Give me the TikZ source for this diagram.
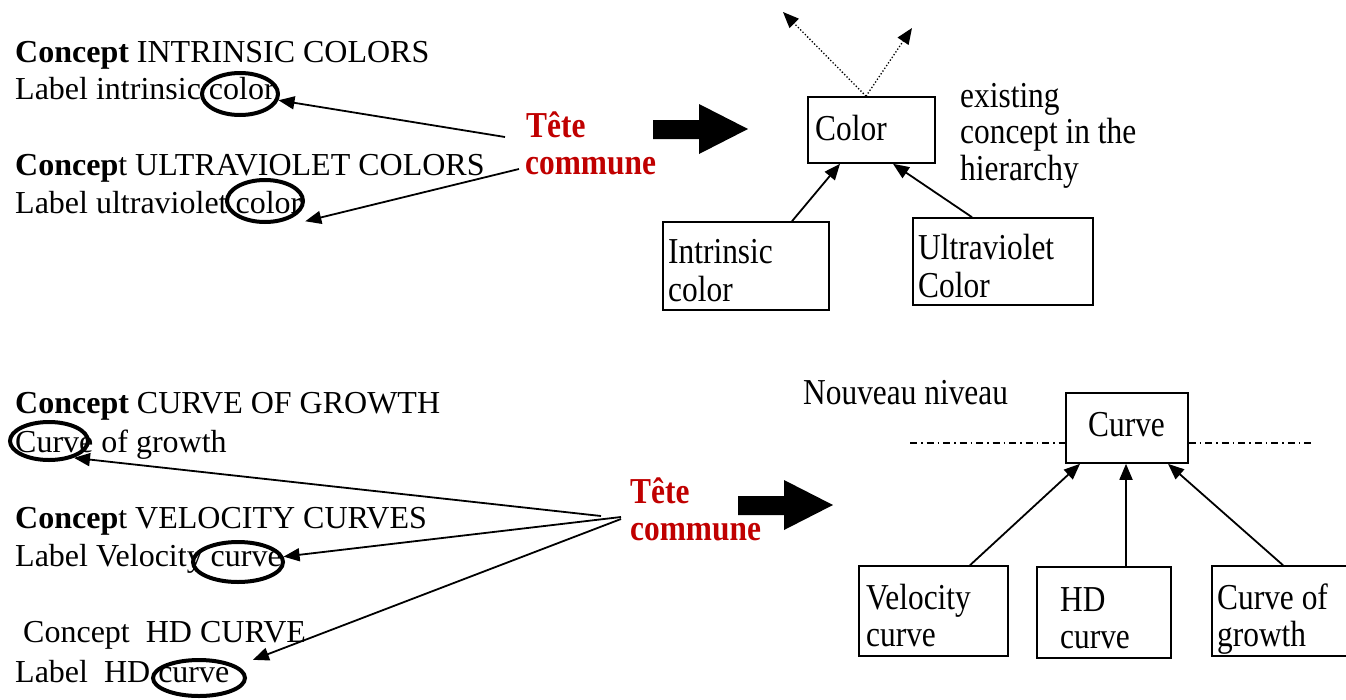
\documentclass[tikz,border=0pt]{standalone}
\usepackage{fontspec}
\setmainfont{Liberation Serif}
\newfontfamily\cond[FakeStretch=0.86]{Liberation Serif}
\usetikzlibrary{arrows.meta,shapes.geometric}
\definecolor{tetered}{RGB}{192,0,0}
\begin{document}
\begin{tikzpicture}[x=1pt,y=-1pt,
  lt/.style={anchor=base west, inner sep=0pt, font=\fontsize{32}{37}\selectfont},
  rt/.style={anchor=base west, inner sep=0pt, font=\cond\fontsize{36.5}{40}\selectfont},
  tetetext/.style={anchor=base west, inner sep=0pt, font=\cond\bfseries\fontsize{36.5}{40}\selectfont, text=tetered},
  box/.style={draw, line width=1.6pt, inner sep=0pt},
  oval/.style={draw, ellipse, line width=4pt, inner sep=0pt},
  arr/.style={line width=1.8pt, -{Triangle[length=16pt,width=13pt]}},
  dotarr/.style={line width=1.3pt, dotted, -{Triangle[length=16pt,width=13pt]}},
  dashdotline/.style={line width=1.2pt, dash pattern=on 7pt off 4pt on 1.5pt off 4pt},
]
\useasboundingbox (0,0) rectangle (1346,699);

% ---------- top left text ----------
\node[lt] (t1) at (15,62) {\textbf{Concept} INTRINSIC COLORS};
\node[lt] (t2) at (15,99) {Label intrinsic color};
\node[lt] (t3) at (15,175) {\textbf{Concep}t ULTRAVIOLET COLORS};
\node[lt] (t4) at (15,213) {Label ultraviolet color};
\node[oval, minimum width=76pt, minimum height=42pt] (e1) at (240,94) {};
\node[oval, minimum width=76pt, minimum height=42pt] (e2) at (265,201) {};

\node[tetetext] (tete1) at (526,137) {Tête};
\node[tetetext] (comm1) at (525,174) {commune};
\coordinate (s1) at (505,137);
\coordinate (s2) at (519,169);
\draw[arr] (s1) -- (e1);
\draw[arr] (s2) -- ([xshift=12pt,yshift=-4pt]e2.south east);

\fill (653,120) -- (699,120) -- (699,104) -- (748,129) -- (699,154) -- (699,139) -- (653,139) -- cycle;

% ---------- top right hierarchy ----------
\node[box, minimum width=127pt, minimum height=66pt] (color) at (871.5,130) {};
\node[rt] (colort) at (815,140) {Color};
\node[rt] (ex1) at (960,107) {existing};
\node[rt] (ex2) at (960,143) {concept in the};
\node[rt] (ex3) at (960,180) {hierarchy};

\node[box, minimum width=166pt, minimum height=88pt] (intr) at (746,266) {};
\node[rt] (intrt1) at (668,263) {Intrinsic};
\node[rt] (intrt2) at (668,301) {color};

\node[box, minimum width=180pt, minimum height=87pt] (uv) at (1003,261.5) {};
\node[rt] (uvt1) at (918,259) {Ultraviolet};
\node[rt] (uvt2) at (918,297) {Color};

\coordinate (d1) at (783,12);
\coordinate (d2) at (912,28);
\draw[dotarr] ([xshift=-5.5pt]color.north) -- (d1);
\draw[dotarr] ([xshift=-5.5pt]color.north) -- (d2);

\draw[arr] ([xshift=46pt]intr.north) -- ([xshift=-31.5pt]color.south);
\draw[arr] ([xshift=-31pt]uv.north) -- ([xshift=21.5pt]color.south);

% ---------- bottom left text ----------
\node[lt] (b1) at (15,413) {\textbf{Concept} CURVE OF GROWTH};
\node[lt] (b2) at (15,452) {Curve of growth};
\node[lt] (b3) at (15,528) {\textbf{Concep}t VELOCITY CURVES};
\node[lt] (b4) at (15,566) {Label Velocity curve};
\node[lt] (b5) at (23,642) {Concept\ \ HD CURVE};
\node[lt] (b6) at (15,682) {Label\ \ HD curve};
\node[oval, minimum width=78pt, minimum height=38pt] (ecurve) at (49,441) {};
\node[oval, minimum width=90pt, minimum height=40pt] (evel) at (238,562) {};
\node[oval, minimum width=92pt, minimum height=36pt] (ehd) at (199,678) {};

\node[tetetext] (tete2) at (630,503) {Tête};
\node[tetetext] (comm2) at (630,540) {commune};
\coordinate (u1) at (601,516);
\coordinate (u2) at (621,517);
\coordinate (u3) at (621,519);
\draw[arr] (u1) -- ([xshift=-4pt,yshift=-2pt]ecurve.south east);
\draw[arr] (u2) -- (evel);
\draw[arr] (u3) -- ([xshift=20pt,yshift=4pt]ehd.north east);

\fill (738,496) -- (784,496) -- (784,480) -- (833,505) -- (784,530) -- (784,515) -- (738,515) -- cycle;

% ---------- bottom right hierarchy ----------
\node[rt] (nn) at (803,404) {Nouveau niveau};
\node[box, minimum width=122pt, minimum height=70pt] (curve) at (1127,428) {};
\node[rt] (curvet) at (1088,436) {Curve};
\coordinate (dl) at (910,443);
\coordinate (dr) at (1315,443);
\draw[dashdotline] (dl) -- (dl -| curve.west);
\draw[dashdotline] (curve.east |- dr) -- (dr);

\node[box, minimum width=149pt, minimum height=90pt] (vel) at (933.5,611) {};
\node[rt] (velt1) at (866,609) {Velocity};
\node[rt] (velt2) at (866,646) {curve};

\node[box, minimum width=134pt, minimum height=91pt] (hd) at (1104,612.5) {};
\node[rt] (hdt1) at (1060,611) {HD};
\node[rt] (hdt2) at (1060,648) {curve};

\node[box, minimum width=138pt, minimum height=90pt] (cog) at (1281,611) {};
\node[rt] (cogt1) at (1217,609) {Curve of};
\node[rt] (cogt2) at (1217,646) {growth};

\draw[arr] ([xshift=36.5pt]vel.north) -- ([xshift=-47pt]curve.south);
\draw[arr] ([xshift=22pt]hd.north) -- ([xshift=22pt]hd.north |- curve.south);
\draw[arr] ([xshift=2pt]cog.north) -- ([xshift=41pt]curve.south);
\end{tikzpicture}
\end{document}
